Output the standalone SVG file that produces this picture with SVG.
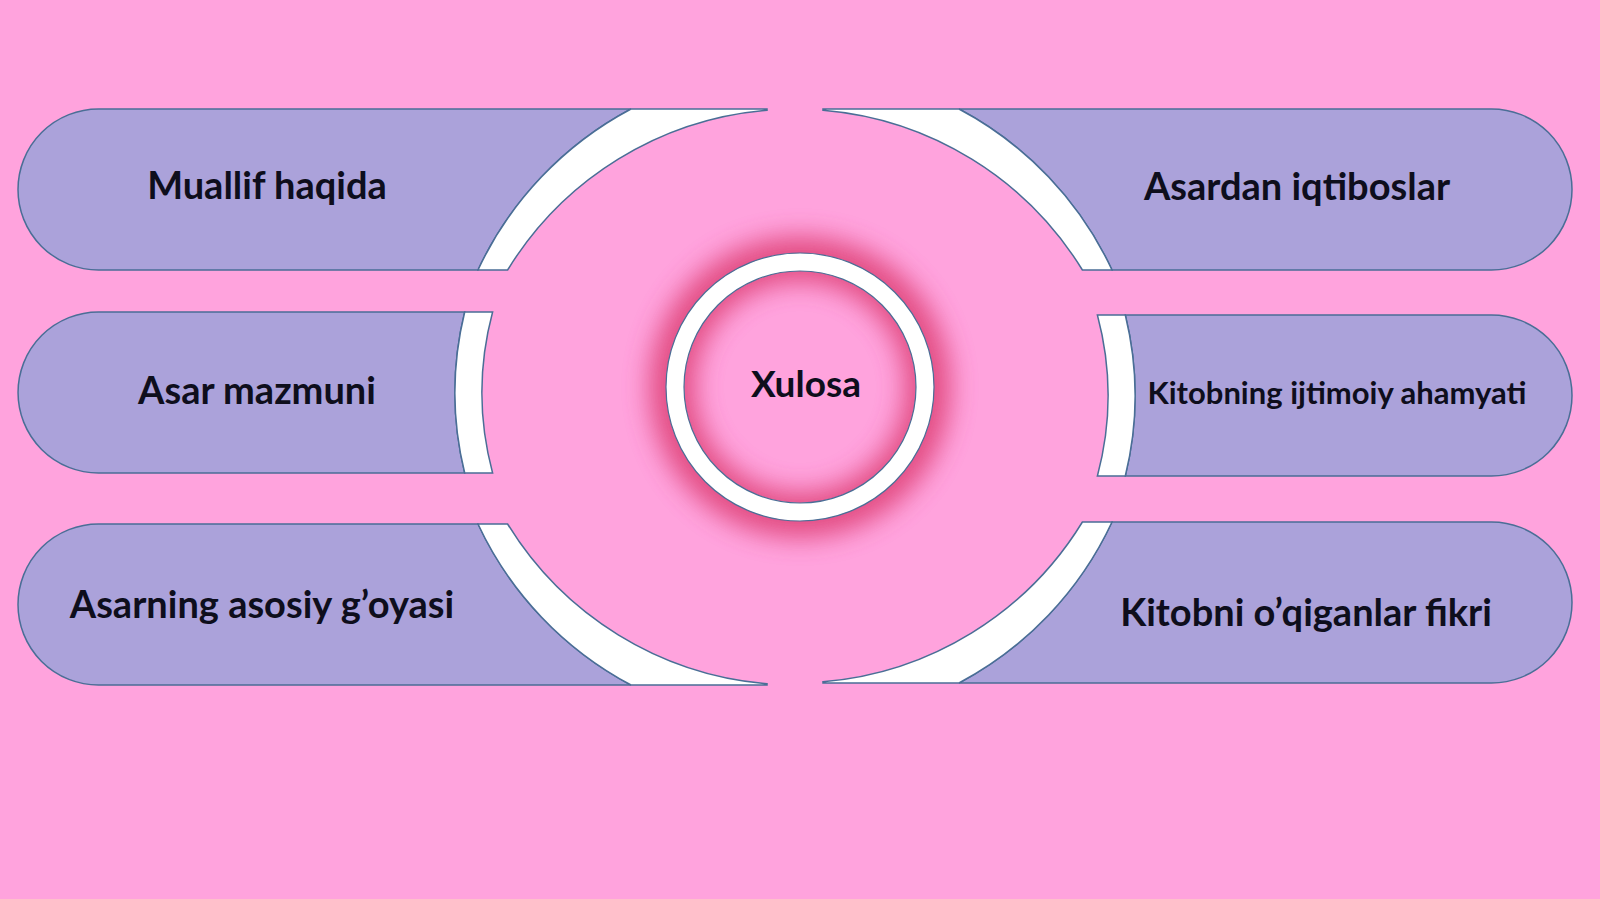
<svg xmlns="http://www.w3.org/2000/svg" width="1600" height="899" viewBox="0 0 1600 899">
<style>
.pill{fill:#ABA2DA;stroke:#4A6E96;stroke-width:1.5}
.band{fill:#FFFFFF;stroke:#4A6E96;stroke-width:1.5}
.lbl{font-family:Lato,"Open Sans","Liberation Sans",sans-serif;font-weight:bold;fill:#0E0E1C;text-anchor:middle}
</style>
<defs>
<filter id="glow" x="-50%" y="-50%" width="200%" height="200%">
<feGaussianBlur stdDeviation="13"/>
</filter>
</defs>
<rect x="0" y="0" width="1600" height="899" fill="#FFA3DD"/>
<g id="node-muallif">
<path class="pill" d="M98.5,109 H631 A350,350 0 0 0 478,270 H98.5 A80.5,80.5 0 0 1 98.5,109 Z"/>
<path class="band" d="M631,109 H767 V110.2 A337,337 0 0 0 507.6,270 H478 A350,350 0 0 1 631,109 Z"/>
<text class="lbl" x="267" y="199" font-size="38">Muallif haqida</text>
</g>
<g id="node-mazmun">
<path class="pill" d="M98.5,312 H464.7 A339,339 0 0 0 464.7,473 H98.5 A80.5,80.5 0 0 1 98.5,312 Z"/>
<path class="band" d="M464.7,312 H492.6 A312,312 0 0 0 492.6,473 H464.7 A339,339 0 0 1 464.7,312 Z"/>
<text class="lbl" x="257" y="404" font-size="38">Asar mazmuni</text>
</g>
<g id="node-goya">
<path class="pill" d="M98.5,524 H478 A350,350 0 0 0 631,685 H98.5 A80.5,80.5 0 0 1 98.5,524 Z"/>
<path class="band" d="M478,524 H507.6 A337,337 0 0 0 767,683.8 V685 H631 A350,350 0 0 1 478,524 Z"/>
<text class="lbl" x="262" y="618" font-size="38">Asarning asosiy g’oyasi</text>
</g>
<g id="node-iqtibos">
<path class="pill" d="M1491.5,109 H959 A350,350 0 0 1 1112,270 H1491.5 A80.5,80.5 0 0 0 1491.5,109 Z"/>
<path class="band" d="M959,109 H823 V110.2 A337,337 0 0 1 1082.4,270 H1112 A350,350 0 0 0 959,109 Z"/>
<text class="lbl" x="1297" y="200" font-size="38">Asardan iqtiboslar</text>
</g>
<g id="node-ahamiyat">
<path class="pill" d="M1491.5,315 H1125.3 A339,339 0 0 1 1125.3,476 H1491.5 A80.5,80.5 0 0 0 1491.5,315 Z"/>
<path class="band" d="M1125.3,315 H1097.4 A312,312 0 0 1 1097.4,476 H1125.3 A339,339 0 0 0 1125.3,315 Z"/>
<text class="lbl" x="1337" y="404" font-size="31">Kitobning ijtimoiy ahamyati</text>
</g>
<g id="node-fikr">
<path class="pill" d="M1491.5,522 H1112 A350,350 0 0 1 959,683 H1491.5 A80.5,80.5 0 0 0 1491.5,522 Z"/>
<path class="band" d="M1112,522 H1082.4 A337,337 0 0 1 823,681.8 V683 H959 A350,350 0 0 0 1112,522 Z"/>
<text class="lbl" x="1306" y="626" font-size="38">Kitobni o’qiganlar fikri</text>
</g>
<g id="node-xulosa">
<circle cx="800" cy="387" r="128" fill="none" stroke="#E0457A" stroke-width="46" opacity="0.9" filter="url(#glow)"/>
<circle cx="800" cy="387" r="125" fill="none" stroke="#FFFFFF" stroke-width="18"/>
<circle cx="800" cy="387" r="134" fill="none" stroke="#4A6E96" stroke-width="1.2"/>
<circle cx="800" cy="387" r="116" fill="none" stroke="#4A6E96" stroke-width="1.2"/>
<text class="lbl" x="806" y="397" font-size="37">Xulosa</text>
</g>
<g id="connectors"></g>
</svg>
